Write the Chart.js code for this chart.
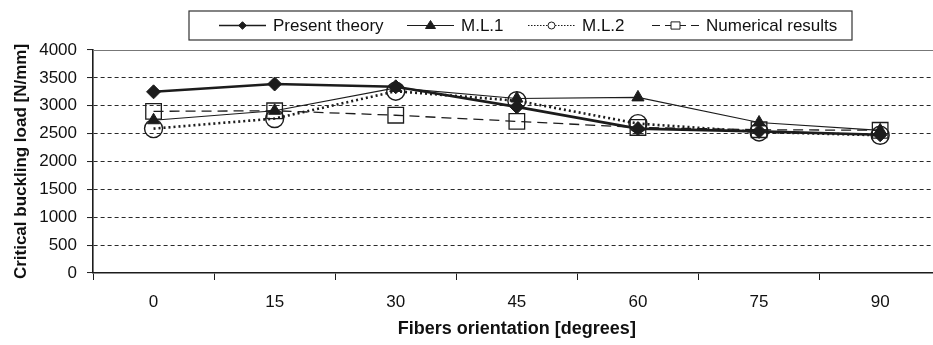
<!DOCTYPE html>
<html>
<head>
<meta charset="utf-8">
<script src="https://cdn.jsdelivr.net/npm/chart.js@4/dist/chart.umd.min.js"></script>
<style>
  html, body { margin: 0; padding: 0; background: #fff; overflow: hidden; width: 933px; height: 345px; }
  #wrap { width: 953px; height: 345px; }
</style>
</head>
<body>
<div id="wrap"><canvas id="c" width="953" height="345"></canvas></div>
<script>
const categories = ['0', '15', '30', '45', '60', '75', '90'];
const presentTheory = [3250, 3390, 3340, 2980, 2590, 2540, 2480];
const ml1 = [2740, 2910, 3320, 3130, 3150, 2700, 2560];
const ml2 = [2590, 2770, 3260, 3090, 2680, 2530, 2470];
const numerical = [2900, 2910, 2830, 2720, 2610, 2570, 2560];
const seriesNames = ['Present theory', 'M.L.1', 'M.L.2', 'Numerical results'];
const yTicks = [0, 500, 1000, 1500, 2000, 2500, 3000, 3500, 4000];
const xTitle = 'Fibers orientation [degrees]';
const yTitle = 'Critical buckling load [N/mm]';

const FONT = '"Liberation Sans", Arial, sans-serif';
const INK = '#1c1c1c';

const datasets = [
  { label: seriesNames[0], data: presentTheory, borderColor: INK, backgroundColor: INK,
    borderWidth: 2.6, pointStyle: 'rectRot', pointRadius: 7, pointBorderWidth: 1, tension: 0 },
  { label: seriesNames[1], data: ml1, borderColor: INK, backgroundColor: INK,
    borderWidth: 1.2, pointStyle: 'triangle', pointRadius: 7, pointBorderWidth: 1, tension: 0 },
  { label: seriesNames[2], data: ml2, borderColor: INK, backgroundColor: 'rgba(0,0,0,0)',
    borderWidth: 2.6, borderDash: [2, 3], pointStyle: 'circle', pointRadius: 9, pointBorderWidth: 1.4, tension: 0 },
  { label: seriesNames[3], data: numerical, borderColor: INK, backgroundColor: 'rgba(0,0,0,0)',
    borderWidth: 1.3, borderDash: [10, 6], pointStyle: 'rect', pointRadius: 11, pointBorderWidth: 1.3, tension: 0 }
];

function drawMarker(ctx, style, x, y, r, fill) {
  ctx.save();
  ctx.setLineDash([]);
  ctx.lineWidth = 1;
  ctx.strokeStyle = INK;
  ctx.fillStyle = fill ? INK : '#fff';
  ctx.beginPath();
  if (style === 'rectRot') {
    ctx.moveTo(x, y - r); ctx.lineTo(x + r, y); ctx.lineTo(x, y + r); ctx.lineTo(x - r, y); ctx.closePath();
  } else if (style === 'triangle') {
    ctx.moveTo(x, y - r); ctx.lineTo(x + r, y + r * 0.6); ctx.lineTo(x - r, y + r * 0.6); ctx.closePath();
  } else if (style === 'circle') {
    ctx.arc(x, y, r, 0, Math.PI * 2);
  } else {
    ctx.rect(x - r, y - r * 0.8, 2 * r, 1.6 * r);
  }
  ctx.fill(); ctx.stroke();
  ctx.restore();
}

const legendPlugin = {
  id: 'boxLegend',
  afterDraw(chart) {
    const ctx = chart.ctx;
    const box = { l: 189, t: 11, r: 852, b: 40 };
    const cy = (box.t + box.b) / 2;
    ctx.save();
    ctx.strokeStyle = '#333';
    ctx.lineWidth = 1.2;
    ctx.strokeRect(box.l, box.t, box.r - box.l, box.b - box.t);
    const starts = [219, 407, 528, 652];
    const lineLen = 47;
    const markers = [['rectRot', 3.8, true], ['triangle', 5, true], ['circle', 3.5, false], ['rect', 4.5, false]];
    chart.data.datasets.forEach((ds, i) => {
      const x0 = starts[i];
      ctx.save();
      ctx.strokeStyle = INK;
      ctx.lineWidth = i === 0 ? 1.4 : 1.2;
      ctx.setLineDash(i === 2 ? [1.5, 1.5] : (i === 3 ? [8, 5] : []));
      ctx.beginPath(); ctx.moveTo(x0, cy); ctx.lineTo(x0 + lineLen, cy); ctx.stroke();
      ctx.restore();
      drawMarker(ctx, markers[i][0], x0 + lineLen / 2, cy, markers[i][1], markers[i][2]);
      ctx.fillStyle = '#111';
      ctx.font = '17px ' + FONT;
      ctx.textBaseline = 'middle';
      ctx.textAlign = 'left';
      ctx.fillText(ds.label, x0 + lineLen + 7, cy + 1);
    });
    ctx.restore();
  }
};

const topBorder = {
  id: 'topBorder',
  afterDatasetsDraw(chart) {
    const { ctx, chartArea } = chart;
    ctx.save();
    ctx.strokeStyle = '#777';
    ctx.lineWidth = 1;
    ctx.beginPath();
    ctx.moveTo(chartArea.left, chartArea.top + 0.5);
    ctx.lineTo(chartArea.right, chartArea.top + 0.5);
    ctx.stroke();
    ctx.restore();
  }
};

new Chart(document.getElementById('c'), {
  type: 'line',
  data: { labels: categories, datasets },
  options: {
    responsive: false,
    animation: false,
    layout: { padding: { top: 50, left: 0, right: 0, bottom: 0 } },
    plugins: { legend: { display: false }, tooltip: { enabled: false } },
    scales: {
      x: {
        type: 'category',
        offset: true,
        grid: { display: true, drawOnChartArea: false, drawTicks: true, offset: true,
                tickLength: 7, tickColor: INK, tickWidth: 1 },
        border: { display: true, color: INK, width: 1.6 },
        ticks: { color: '#111', font: { family: FONT, size: 17 }, padding: 12, maxRotation: 0 },
        title: { display: true, text: xTitle, color: '#111',
                 font: { family: FONT, size: 18, weight: 'bold' }, padding: { top: 0, bottom: 5 } },
        afterFit(s) { s.height = 72; }
      },
      y: {
        min: 0, max: 4000,
        afterBuildTicks(s) { s.ticks = yTicks.map(v => ({ value: v })); },
        grid: {
          color: (c) => (c.tick && (c.tick.value === 0 || c.tick.value === 4000)) ? 'rgba(0,0,0,0)' : '#2a2a2a',
          lineWidth: 1.1, tickColor: INK, tickLength: 6, tickWidth: 1, tickBorderDash: []
        },
        border: { display: true, color: INK, width: 1.6, dash: [4, 3] },
        ticks: { color: '#111', font: { family: FONT, size: 17 }, padding: 10,
                 callback: (v) => String(v) },
        title: { display: true, text: yTitle, color: '#111',
                 font: { family: FONT, size: 17, weight: 'bold' }, padding: { top: 11, bottom: 0 } },
        afterFit(s) { s.width = 93; }
      }
    }
  },
  plugins: [legendPlugin, topBorder]
});
</script>
</body>
</html>
